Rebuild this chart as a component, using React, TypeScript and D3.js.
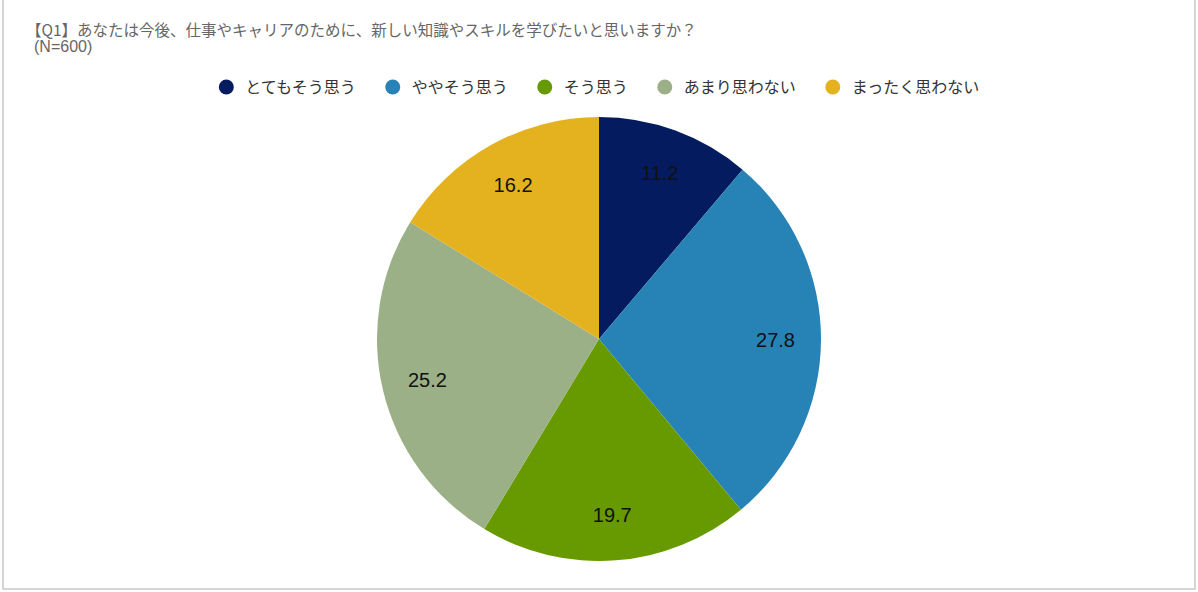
import * as d3 from "d3";
import { useEffect, useRef } from "react";

const WIDTH = 1198;
const HEIGHT = 592;

const TITLE = "【Q1】あなたは今後、仕事やキャリアのために、新しい知識やスキルを学びたいと思いますか？";
const SUBTITLE = "(N=600)";

const CATEGORIES = ["とてもそう思う", "ややそう思う", "そう思う", "あまり思わない", "まったく思わない"];
const VALUES = [11.2, 27.8, 19.7, 25.2, 16.2];
const COLORS = ["#051b5f", "#2783b5", "#669a00", "#9bb086", "#e5b21f"];

const JP_FONT = "'Noto Sans CJK JP', 'Noto Sans', sans-serif";
const NUM_FONT = "'Liberation Sans', Arial, sans-serif";

const App = () => {
  const svgRef = useRef<SVGSVGElement>(null);

  useEffect(() => {
    if (!svgRef.current) return;
    const svg = d3.select(svgRef.current);
    svg.selectAll("*").remove();

    // frame
    svg
      .append("rect")
      .attr("x", 3)
      .attr("y", -2)
      .attr("width", WIDTH - 6)
      .attr("height", HEIGHT - 1)
      .attr("fill", "#fff")
      .attr("stroke", "#c8c8c8")
      .attr("stroke-width", 1.5);

    // title
    svg
      .append("text")
      .attr("x", 26)
      .attr("y", 36)
      .attr("font-family", JP_FONT)
      .attr("font-size", 15.5)
      .attr("fill", "#666")
      .text(TITLE);
    svg
      .append("text")
      .attr("x", 34)
      .attr("y", 52)
      .attr("font-family", NUM_FONT)
      .attr("font-size", 16)
      .attr("fill", "#666")
      .text(SUBTITLE);

    // legend
    const legend = svg.append("g").attr("transform", "translate(0,87)");
    const items = legend
      .selectAll("g")
      .data(CATEGORIES)
      .join("g");
    items
      .append("circle")
      .attr("r", 7.5)
      .attr("fill", (_, i) => COLORS[i]);
    items
      .append("text")
      .attr("x", 19)
      .attr("dy", "0.35em")
      .attr("font-family", JP_FONT)
      .attr("font-size", 16)
      .attr("fill", "#333")
      .text((d) => d);

    const widths: number[] = [];
    items.each(function () {
      const t = d3.select(this).select<SVGTextElement>("text").node();
      widths.push(19 + (t ? t.getComputedTextLength() : 0));
    });
    const gap = 37;
    const total = d3.sum(widths) + gap * (widths.length - 1) + 7.5;
    let x = WIDTH / 2 - total / 2 + 7.5;
    items.attr("transform", (_, i) => {
      const pos = x;
      x += widths[i] + gap;
      return `translate(${pos},0)`;
    });

    // pie
    const cx = 599;
    const cy = 339;
    const radius = 222;
    const pie = d3
      .pie<number>()
      .sort(null)
      .value((d) => d);
    const arcs = pie(VALUES);
    const arc = d3.arc<d3.PieArcDatum<number>>().innerRadius(0).outerRadius(radius);
    const labelArc = d3
      .arc<d3.PieArcDatum<number>>()
      .innerRadius(radius * 0.795)
      .outerRadius(radius * 0.795);

    const g = svg.append("g").attr("transform", `translate(${cx},${cy})`);
    g.selectAll("path")
      .data(arcs)
      .join("path")
      .attr("d", arc)
      .attr("fill", (_, i) => COLORS[i]);

    g.selectAll("text")
      .data(arcs)
      .join("text")
      .attr("transform", (d) => `translate(${labelArc.centroid(d)})`)
      .attr("text-anchor", "middle")
      .attr("dy", "0.35em")
      .attr("font-family", NUM_FONT)
      .attr("font-size", 20)
      .attr("fill", "#111")
      .text((d) => d3.format(".1f")(d.data));
  }, []);

  return (
    <div style={{ position: "fixed", left: 0, top: 0 }}>
      <svg ref={svgRef} width={WIDTH} height={HEIGHT} style={{ display: "block" }} />
    </div>
  );
};

export default App;
